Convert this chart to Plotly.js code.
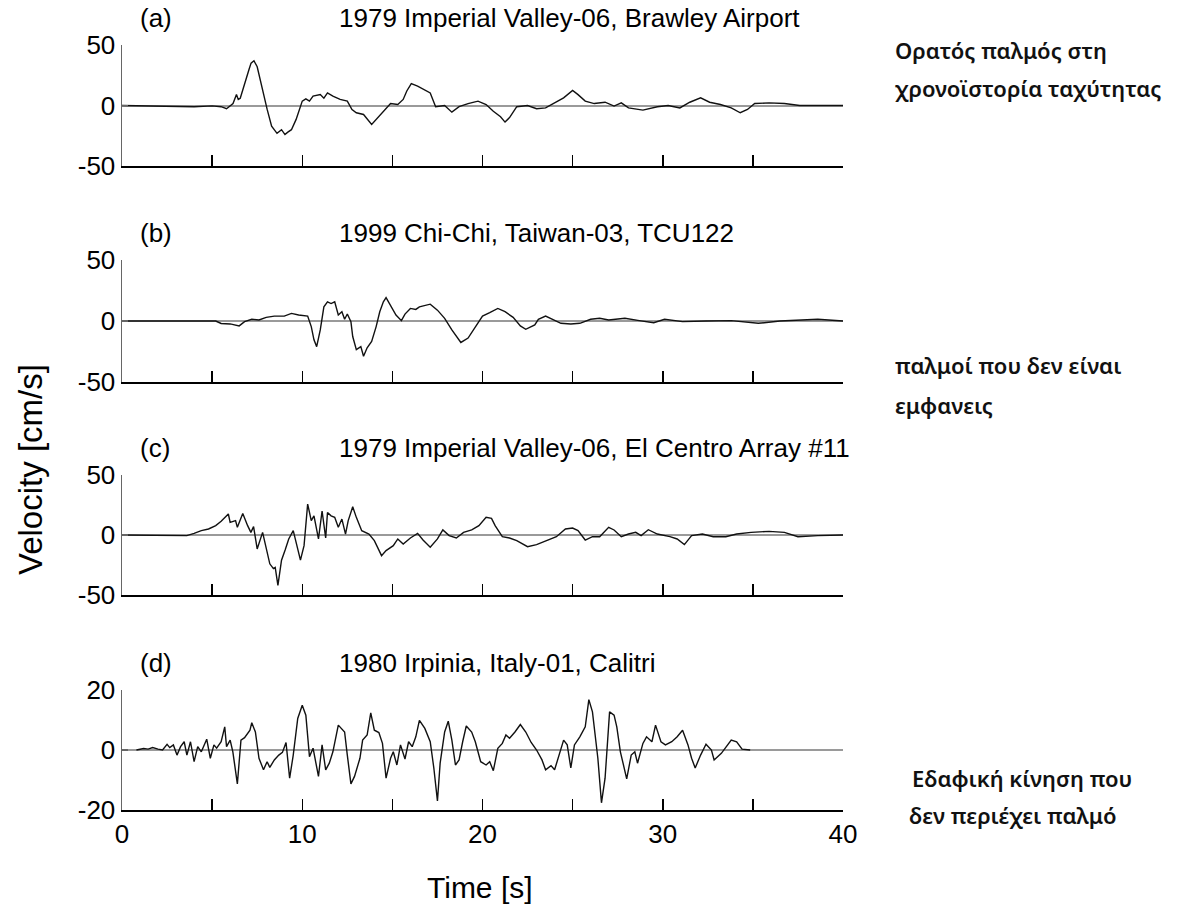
<!DOCTYPE html>
<html>
<head>
<meta charset="utf-8">
<script src="https://cdn.plot.ly/plotly-3.0.1.min.js"></script>
<style>html,body{margin:0;padding:0;background:#fff}#chart{width:1177px;height:918px}</style>
</head>
<body>
<div id="chart"></div>
<script>
// ---- Data ----
const panelLabels = ["(a)", "(b)", "(c)", "(d)"];
const panelTitles = [
  "1979 Imperial Valley-06, Brawley Airport",
  "1999 Chi-Chi, Taiwan-03, TCU122",
  "1979 Imperial Valley-06, El Centro Array #11",
  "1980 Irpinia, Italy-01, Calitri"
];
const xTickVals = [0, 5, 10, 15, 20, 25, 30, 35, 40];
const xTickText = ["0", "", "10", "", "20", "", "30", "", "40"];
const yTicksBig = [-50, 0, 50];
const yTicksSmall = [-20, 0, 20];

const tA = [0,1,2,3,4,5,5.5,5.8,6.0,6.16,6.35,6.45,6.56,6.75,6.9,7.05,7.16,7.32,7.5,7.65,7.78,7.92,8.05,8.3,8.6,8.85,9.04,9.2,9.4,9.66,9.85,10.0,10.2,10.4,10.6,11.0,11.2,11.4,11.7,12.1,12.5,12.76,13.0,13.4,13.85,14.1,14.5,14.9,15.3,15.6,15.8,16.05,16.4,16.8,17.1,17.4,17.9,18.3,18.7,19.2,19.75,20.2,20.6,21.0,21.25,21.5,21.9,22.5,23.0,23.5,23.95,24.5,25.0,25.3,25.7,26.2,26.8,27.3,27.7,28.1,28.9,29.7,30.3,30.95,31.5,32.1,32.6,33.2,33.8,34.3,34.7,35.1,35.9,36.75,37.6,40];
const vA = [0,-0.3,-0.8,-0.5,-1,-0.3,-1,-2.7,0,1.6,9,5,6,16,22,30,35,37,32,22,13,4,-3,-17,-23,-20,-24,-22,-20,-11.5,-3,3.6,5.5,3.6,7.7,9,6,10.4,7.7,5,3.6,-3.3,-6,-7.4,-15.6,-11.5,-4.7,1.6,0.8,5,12,18,16,13,10.4,-1,0,-5.5,-1,1.6,3.6,0.8,-4.7,-9.3,-13.7,-10,-1,0,-2.7,-2,1.6,6.3,12.4,9,3.6,1.6,2.7,-0.5,2.2,-2,-3.8,-1,0,-2,2.7,6.3,2.7,0.8,-2,-6,-3.3,1.6,2.2,1.6,0,0];

const tB = [0,5.2,5.5,6.0,6.5,6.8,7.2,7.6,8.0,8.45,9.0,9.4,9.8,10.3,10.5,10.65,10.8,11.0,11.2,11.4,11.6,11.8,12.0,12.2,12.35,12.5,12.7,12.8,13.0,13.25,13.4,13.6,13.85,14.1,14.3,14.5,14.65,14.9,15.2,15.5,15.7,16.0,16.3,16.5,17.1,17.5,17.9,18.3,18.8,19.2,19.6,20.0,20.4,20.85,21.25,21.7,22.1,22.4,22.9,23.1,23.5,23.95,24.35,24.9,25.4,26.0,26.5,27.0,27.9,28.7,29.5,30.1,31.1,32.4,33.8,35.3,36.5,38.6,40];
const vB = [0,0,-2,-2.4,-4,-0.5,1.4,0.8,3,4,4,6.2,4.9,4,-4.6,-15.4,-21,-7.3,11.6,15.7,14.3,15.7,4.9,7.6,1.4,5.7,-0.5,-12.7,-23.5,-21,-28.9,-22,-16.7,-4.6,7.6,15.7,19.2,13,4.9,0.3,5.7,10.3,9.5,11.6,13.8,8.9,2.2,-7.3,-17.6,-14,-4.6,4,6.8,10.3,7.6,3,-4,-6.8,-3.2,1.4,4,0.8,-1.9,-2.4,-1.9,1.4,2.2,0.8,2.2,0.3,-1.4,1.4,-0.5,0,0.3,-1.9,0,1.4,0];

const tC = [0,3.3,3.6,4.0,4.4,4.8,5.2,5.5,5.9,6.0,6.3,6.4,6.7,6.97,7.15,7.3,7.5,7.8,8.05,8.2,8.4,8.5,8.65,8.85,9.05,9.25,9.5,9.7,9.9,10.1,10.3,10.5,10.65,10.9,11.1,11.3,11.4,11.6,11.8,12.0,12.2,12.4,12.55,12.8,13.0,13.3,13.7,14.0,14.4,14.65,15.05,15.3,15.6,16.0,16.4,16.7,17.1,17.5,17.8,18.15,18.55,18.95,19.4,19.8,20.2,20.5,20.7,21.1,21.5,21.9,22.5,23.0,23.5,24.1,24.6,25.0,25.3,25.7,26.1,26.5,27.0,27.3,27.7,28.1,28.5,28.8,29.2,29.7,30.4,30.8,31.2,31.6,32.2,32.8,33.5,34.1,34.9,35.9,36.75,37.5,38.6,40];
const vC = [0,0,-0.5,1.4,3.6,5,7.8,11.4,17.5,10.5,12,6.4,18,7.8,2.2,7,-11.6,2.2,-13,-24,-28,-27,-42,-21,-12.5,-3.3,3.6,-7.5,-21,-8.9,25.8,12,16,-3.3,20,-2.5,18.8,16,14.7,6.4,13.3,0.8,12,23.5,14.7,3.6,0.8,-4.7,-17.2,-13,-8.9,-3.3,-7.5,-2.5,1.4,-4.2,-10.2,-3.3,4.2,-0.5,-2.5,2.2,4.2,7.8,14.7,13.9,7.8,-1.4,-2.5,-4.7,-9.7,-8,-5.3,-1.4,5,5.8,3.6,-4.2,-1.4,-1.4,6.4,4.2,-1.4,0.8,2.2,-0.5,4.4,0.8,-1.4,-3.3,-8,-0.5,0.8,-1.4,-1.4,0.8,2.2,3,2.2,-1.4,-0.5,0];

const tD = [0.8,1.2,1.45,1.7,2.0,2.25,2.5,2.65,2.85,3.05,3.25,3.45,3.6,3.8,4.0,4.2,4.4,4.7,4.9,5.1,5.25,5.5,5.7,5.8,6.0,6.15,6.4,6.6,6.8,7.1,7.2,7.4,7.6,7.85,8.05,8.2,8.45,8.7,8.9,9.1,9.3,9.5,9.75,10.0,10.2,10.4,10.6,10.9,11.1,11.3,11.5,11.7,12.0,12.2,12.35,12.5,12.7,12.9,13.2,13.35,13.6,13.8,14.0,14.25,14.45,14.65,14.9,15.05,15.25,15.45,15.7,15.9,16.1,16.3,16.5,16.8,17.1,17.3,17.5,17.65,17.9,18.1,18.3,18.5,18.7,18.9,19.1,19.4,19.6,19.9,20.2,20.4,20.6,20.85,21.1,21.3,21.5,21.8,22.1,22.4,22.7,23.0,23.3,23.5,23.8,24.0,24.3,24.5,24.7,24.9,25.1,25.4,25.7,25.9,26.1,26.4,26.6,26.8,27.05,27.3,27.45,27.65,28.0,28.25,28.45,28.6,28.9,29.1,29.4,29.6,29.9,30.15,30.5,30.8,31.1,31.4,31.6,31.8,32.1,32.4,32.7,32.85,33.25,33.8,34.1,34.4,34.85];
const vD = [0,0.5,0.3,0.8,0.3,0,1.9,0.8,1.7,-1.7,1.1,2.75,-1.7,2.75,-3.9,1.1,-0.6,3.6,-2.75,1.7,0.6,2.75,7.7,1.1,3.3,-0.6,-11.3,3.3,4.1,6.6,9.1,6,-2.75,-6.6,-3.9,-5.8,-3.3,-1.7,-0.8,2.5,-9.4,-1.7,10.5,14.9,11.6,-2.2,0.6,-8.8,1.7,-6.6,-4.4,-0.6,8.3,6.9,6,-1.7,-11.3,-8.8,-2.75,3.3,5,12.4,6.6,5.8,2.2,-9.4,-2.75,-0.6,-5,1.7,-3,2.75,1.1,4.4,9.9,7.2,2.75,-6,-17,-4.4,6,9.6,3.3,-5,-3.3,2.75,8,6,2.75,-3.9,-5,-3.9,-6.9,0.55,2.2,5,3.9,6,8.5,6,2.5,0,-3.3,-6.6,-5.2,-6.6,-0.6,3.3,1.7,-6,1.7,4.4,7.7,16.8,12.7,-2.75,-17.6,-9.4,12.7,11.6,7.7,-0.6,-9.6,-1.7,-0.6,-4.4,2.2,4.4,2.75,8.3,2.75,1.7,2.75,4.4,6.6,1.7,-2.75,-6,-1.7,1.9,0,-3.3,-1.1,3.3,2.75,0.3,0];

// ---- Layout geometry ----
const W = 1177, H = 918;
const px = x => x / W;
const py = y => 1 - y / H;
const xDom = [px(122), px(843)];
const panels = [
  {top: 45, bot: 166, rng: [-50, 50], ticks: yTicksBig, t: tA, v: vA},
  {top: 260, bot: 382, rng: [-50, 50], ticks: yTicksBig, t: tB, v: vB},
  {top: 475, bot: 595, rng: [-50, 50], ticks: yTicksBig, t: tC, v: vC},
  {top: 690, bot: 810, rng: [-20, 20], ticks: yTicksSmall, t: tD, v: vD}
];
const FONT = "Liberation Sans, Arial, sans-serif";
const GREEK = "Noto Sans, Open Sans, sans-serif";

const data = [];
const layout = {
  width: W, height: H,
  margin: {l: 0, r: 0, t: 0, b: 0},
  paper_bgcolor: "#fff", plot_bgcolor: "rgba(0,0,0,0)",
  showlegend: false,
  font: {family: FONT, size: 26, color: "#000"},
  annotations: [],
};

panels.forEach((p, i) => {
  const n = i === 0 ? "" : String(i + 1);
  data.push({
    x: p.t, y: p.v, type: "scatter", mode: "lines",
    xaxis: "x" + n, yaxis: "y" + n,
    line: {color: "#111", width: 1.4},
    hoverinfo: "skip"
  });
  layout["xaxis" + n] = {
    domain: xDom, anchor: "y" + n, range: [0, 40],
    showgrid: false, zeroline: false,
    showline: true, linecolor: "#000", linewidth: 2,
    ticks: "inside", ticklen: 11, tickwidth: 1.5, tickcolor: "#000",
    tickvals: xTickVals, ticktext: xTickText,
    showticklabels: i === 3,
    tickfont: {family: FONT, size: 26, color: "#000"}
  };
  layout["yaxis" + n] = {
    domain: [py(p.bot), py(p.top)], anchor: "x" + n, range: p.rng,
    showgrid: false,
    zeroline: true, zerolinecolor: "#9a9a9a", zerolinewidth: 2,
    showline: true, linecolor: "#666", linewidth: 1.5,
    ticks: "inside", ticklen: 6, tickwidth: 1.5, tickcolor: "#666",
    tickvals: p.ticks, ticktext: p.ticks.map(String),
    tickfont: {family: FONT, size: 26, color: "#000"}
  };
  layout.annotations.push({
    xref: "paper", yref: "paper", x: px(138), y: py(p.top - 27),
    xanchor: "left", yanchor: "middle", showarrow: false,
    text: panelLabels[i], font: {family: FONT, size: 26, color: "#000"}
  });
  layout.annotations.push({
    xref: "paper", yref: "paper", x: px(337), y: py(p.top - 27),
    xanchor: "left", yanchor: "middle", showarrow: false,
    text: panelTitles[i], font: {family: FONT, size: 26, color: "#000"}
  });
});

// axis titles
layout.annotations.push({
  xref: "paper", yref: "paper", x: px(480), y: py(887),
  xanchor: "center", yanchor: "middle", showarrow: false,
  text: "Time [s]", font: {family: FONT, size: 30, color: "#000"}
});
layout.annotations.push({
  xref: "paper", yref: "paper", x: px(30), y: py(470),
  xanchor: "center", yanchor: "middle", showarrow: false, textangle: -90,
  text: "Velocity [cm/s]", font: {family: FONT, size: 33, color: "#000"}
});

// Greek side notes
const notes = [
  {x: 893, y: 50, text: "Ορατός παλμός στη"},
  {x: 893, y: 88, text: "χρονοϊστορία ταχύτητας"},
  {x: 893, y: 365, text: "παλμοί που δεν είναι"},
  {x: 893, y: 405, text: "εμφανεις"},
  {x: 910, y: 778, text: "Εδαφική κίνηση που"},
  {x: 907, y: 815, text: "δεν περιέχει παλμό"}
];
notes.forEach(n => layout.annotations.push({
  xref: "paper", yref: "paper", x: px(n.x), y: py(n.y),
  xanchor: "left", yanchor: "middle", showarrow: false,
  text: n.text, font: {family: GREEK, size: 22, color: "#111", weight: 600}
}));

Plotly.newPlot("chart", data, layout, {staticPlot: true, displayModeBar: false});
</script>
</body>
</html>
